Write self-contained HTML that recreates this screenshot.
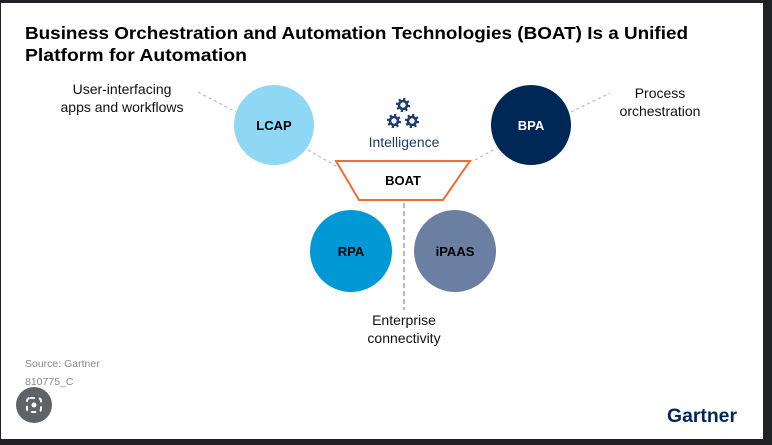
<!DOCTYPE html>
<html><head><style>
html,body{margin:0;padding:0;width:772px;height:445px;overflow:hidden;background:#222;}
svg{display:block}
text{font-family:"Liberation Sans",sans-serif;}
</style></head><body>
<svg width="772" height="445" viewBox="0 0 772 445">
<rect x="0" y="0" width="772" height="445" fill="#202124"/>
<rect x="1" y="3" width="762" height="436" fill="#fff"/>
<text x="25" y="39" font-size="17.5" font-weight="bold" fill="#000" textLength="663" lengthAdjust="spacingAndGlyphs">Business Orchestration and Automation Technologies (BOAT) Is a Unified</text>
<text x="25" y="61" font-size="17.5" font-weight="bold" fill="#000" textLength="222" lengthAdjust="spacingAndGlyphs">Platform for Automation</text>
<g stroke="#bbb" stroke-width="1.2" stroke-dasharray="3,3" fill="none">
<line x1="198" y1="92" x2="236" y2="112"/>
<line x1="308" y1="150" x2="336" y2="166"/>
<line x1="571" y1="112" x2="610" y2="93"/>
<line x1="475" y1="160" x2="497" y2="148"/>
<line x1="404" y1="203" x2="404" y2="310" stroke="#888" stroke-dasharray="5,3"/>
</g>
<circle cx="274" cy="125" r="40" fill="#8fd8f5"/>
<circle cx="531" cy="125" r="40" fill="#002856"/>
<circle cx="351" cy="251" r="41" fill="#0099d6"/>
<circle cx="455" cy="251" r="41" fill="#6a7fa2"/>
<polygon points="336,161 470,161 443,200 359,200" fill="#fff" stroke="#f26c2f" stroke-width="2"/>
<g font-weight="bold" font-size="13" text-anchor="middle">
<text x="274" y="130" fill="#000">LCAP</text>
<text x="531" y="130" fill="#fff">BPA</text>
<text x="351" y="256" fill="#000">RPA</text>
<text x="455" y="256" fill="#000">iPAAS</text>
<text x="403" y="185" fill="#000">BOAT</text>
</g>
<g fill="none" stroke="#1e3a6e">
<circle cx="403" cy="105" r="4" stroke-width="2.6"/>
<circle cx="394" cy="121" r="4" stroke-width="2.6"/>
<circle cx="412" cy="121" r="4" stroke-width="2.6"/>
<circle cx="403" cy="105" r="6" stroke-width="2.2" stroke-dasharray="2.2,2.5"/>
<circle cx="394" cy="121" r="6" stroke-width="2.2" stroke-dasharray="2.2,2.5"/>
<circle cx="412" cy="121" r="6" stroke-width="2.2" stroke-dasharray="2.2,2.5"/>
</g>
<text x="404" y="147" font-size="14" fill="#1e3a6e" text-anchor="middle">Intelligence</text>
<g font-size="14" fill="#111" text-anchor="middle">
<text x="122" y="94">User-interfacing</text>
<text x="122" y="112">apps and workflows</text>
<text x="660" y="98">Process</text>
<text x="660" y="116">orchestration</text>
<text x="404" y="325">Enterprise</text>
<text x="404" y="343">connectivity</text>
</g>
<text x="25" y="367" font-size="10.5" fill="#888">Source: Gartner</text>
<text x="25" y="385" font-size="10.5" fill="#888">810775_C</text>
<circle cx="34" cy="405" r="18" fill="#5f6368"/>
<rect x="27" y="398" width="14" height="14" rx="3" fill="none" stroke="#fff" stroke-width="2" stroke-dasharray="5,4"/>
<circle cx="34" cy="405" r="2.5" fill="#fff"/>
<text x="667" y="422" font-size="19" font-weight="bold" fill="#002856" textLength="70" lengthAdjust="spacingAndGlyphs">Gartner</text>
</svg>
</body></html>
